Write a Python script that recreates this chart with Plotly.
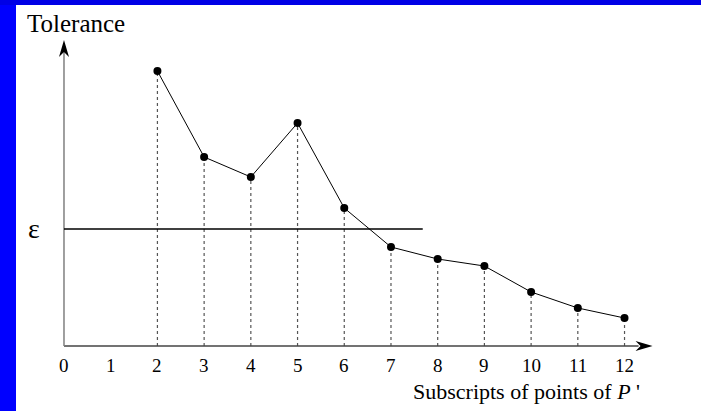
import plotly.graph_objects as go

# ---- data ----
subscripts = [2, 3, 4, 5, 6, 7, 8, 9, 10, 11, 12]
tolerance = [2.75, 1.89, 1.69, 2.23, 1.38, 0.99, 0.87, 0.80, 0.54, 0.38, 0.28]
epsilon = 1.17
epsilon_end = 7.68
tick_values = list(range(0, 13))
tick_labels = [str(v) for v in tick_values]
x_axis_end = 12.6
y_axis_end = 3.06

W, H = 701, 411
X_RANGE = [-1.370, 13.637]
Y_RANGE = [-0.65, 3.46]
SERIF = "Liberation Serif, Times New Roman, serif"

fig = go.Figure()

# dotted drop lines from each point to the x axis
dx, dy = [], []
for x, y in zip(subscripts, tolerance):
    dx += [x, x, None]
    dy += [0, y, None]
fig.add_trace(go.Scatter(x=dx, y=dy, mode="lines",
                         line=dict(color="#555555", width=1.2, dash="dot"),
                         hoverinfo="skip", showlegend=False))

# the tolerance polyline
fig.add_trace(go.Scatter(x=subscripts, y=tolerance, mode="lines+markers",
                         line=dict(color="black", width=1),
                         marker=dict(color="black", size=8),
                         showlegend=False))

shapes = [
    # blue frame strips
    dict(type="rect", xref="paper", yref="paper", x0=0, x1=16 / W, y0=0, y1=1,
         fillcolor="#0000ff", line=dict(width=0), layer="above"),
    dict(type="rect", xref="paper", yref="paper", x0=0, x1=1, y0=1 - 5 / H, y1=1,
         fillcolor="#0000e6", line=dict(width=0), layer="above"),
    # axes
    dict(type="line", xref="x", yref="y", x0=0, x1=x_axis_end - 0.3, y0=0, y1=0,
         line=dict(color="#444444", width=1.5)),
    dict(type="line", xref="x", yref="y", x0=0, x1=0, y0=0, y1=y_axis_end - 0.1,
         line=dict(color="#808080", width=1.5)),
    # epsilon threshold
    dict(type="line", xref="x", yref="y", x0=0, x1=epsilon_end, y0=epsilon, y1=epsilon,
         line=dict(color="black", width=1.3)),
    # arrowheads (pixel-sized, anchored on axis ends)
    dict(type="path", xref="x", yref="y", xsizemode="pixel", ysizemode="pixel",
         xanchor=x_axis_end, yanchor=0,
         path="M0,0 L-17,5 L-12,0 L-17,-5 Z", fillcolor="black", line=dict(width=0)),
    dict(type="path", xref="x", yref="y", xsizemode="pixel", ysizemode="pixel",
         xanchor=0, yanchor=y_axis_end,
         path="M0,0 L-5,-17 L0,-12 L5,-17 Z", fillcolor="black", line=dict(width=0)),
]

annotations = []
for v, lab in zip(tick_values, tick_labels):
    annotations.append(dict(x=v, y=-0.19, xref="x", yref="y", text=lab, showarrow=False,
                            font=dict(family=SERIF, size=19, color="black"),
                            xanchor="center", yanchor="middle"))
annotations.append(dict(x=-0.835, y=3.23, xref="x", yref="y", text="Tolerance",
                        showarrow=False, xanchor="left", yanchor="middle",
                        font=dict(family=SERIF, size=25, color="black")))
annotations.append(dict(x=-0.64, y=1.18, xref="x", yref="y", text="ε",
                        showarrow=False, xanchor="center", yanchor="middle",
                        font=dict(family=SERIF, size=28, color="black")))
annotations.append(dict(x=12.37, y=-0.45, xref="x", yref="y",
                        text="Subscripts of points of <i>P</i> '",
                        showarrow=False, xanchor="right", yanchor="middle",
                        font=dict(family=SERIF, size=22, color="black")))

fig.update_layout(
    width=W, height=H, autosize=False,
    margin=dict(l=0, r=0, t=0, b=0),
    paper_bgcolor="white", plot_bgcolor="white",
    xaxis=dict(range=X_RANGE, visible=False, fixedrange=True),
    yaxis=dict(range=Y_RANGE, visible=False, fixedrange=True),
    shapes=shapes, annotations=annotations,
)

fig.write_html("out.html",
               post_script="document.body.style.margin='0';document.body.style.padding='0';"
                           "document.body.style.overflow='hidden';",
               config={"displayModeBar": False})
